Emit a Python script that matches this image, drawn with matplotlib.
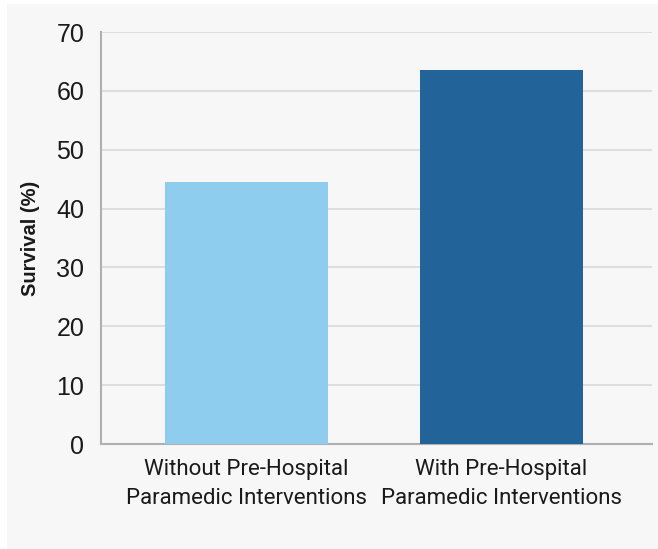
import matplotlib.pyplot as plt
from matplotlib.patches import Rectangle

categories = ['Without Pre-Hospital\nParamedic Interventions',
              'With Pre-Hospital\nParamedic Interventions']
survival = [44.5, 63.5]
bar_colors = ['#8fcdee', '#22639a']
yticks = [0, 10, 20, 30, 40, 50, 60, 70]

fig = plt.figure(figsize=(6.58, 5.49), dpi=100, facecolor='white')
fig.patches.append(Rectangle((7 / 658, 0), 1, 1 - 4 / 549, transform=fig.transFigure,
                             facecolor='#f7f7f7', edgecolor='none', zorder=-10))

ax = fig.add_axes([101 / 658, 1 - 444 / 549, (652 - 101) / 658, (444 - 32) / 549])
ax.set_facecolor('#f7f7f7')

x = list(range(len(categories)))
ax.bar(x, survival, width=0.64, color=bar_colors, zorder=3)

ax.set_ylim(0, 70)
ax.set_xlim(-0.572, 1.593)
ax.set_yticks(yticks)
ax.set_yticklabels([str(t) for t in yticks], fontsize=18, family='Liberation Sans', color='#1a1a1a')
ax.set_xticks(x)
ax.set_xticklabels(categories, fontsize=16, family='Roboto',
                   color='#1a1a1a', linespacing=1.5)
ax.tick_params(axis='both', length=0)
ax.tick_params(axis='y', pad=12)
ax.tick_params(axis='x', pad=11)

ax.set_ylabel('Survival (%)', fontsize=14.5, fontweight='bold', family='Liberation Sans',
              color='#1a1a1a', labelpad=12)

ax.grid(axis='y', color='#d9d9d9', linewidth=1.2, zorder=0)
for s in ['top', 'right']:
    ax.spines[s].set_visible(False)
for s in ['left', 'bottom']:
    ax.spines[s].set_color('#b0b0b0')
    ax.spines[s].set_linewidth(1.5)

fig.savefig('out.png', dpi=100, facecolor=fig.get_facecolor())
